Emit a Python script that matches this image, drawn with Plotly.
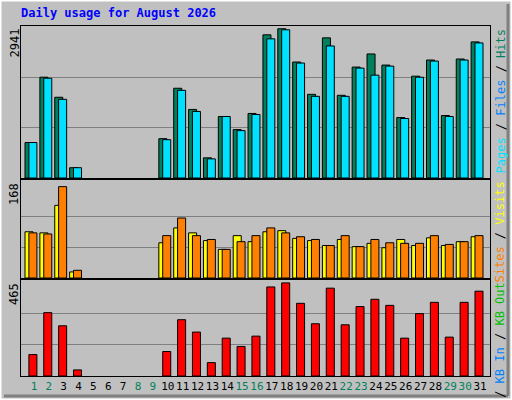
import plotly.graph_objects as go

days = list(range(1, 32))
weekend = [1, 2, 8, 9, 15, 16, 22, 23, 29, 30]

hits = [690, 1960, 1570, 200, None, None, None, None, None, 765, 1745, 1333, 392, 1196, 941, 1255,
        2784, 2902, 2255, 1627, 2725, 1608, 2157, 2412, 2196, 1176, 1980, 2294, 1215, 2314, 2647]
pages = [690, 1940, 1530, 200, None, None, None, None, None, 745, 1705, 1294, 372, 1196, 921, 1235,
         2706, 2882, 2235, 1588, 2568, 1588, 2137, 2000, 2176, 1157, 1960, 2274, 1196, 2294, 2627]
visits = [84, 82, 132, 11, None, None, None, None, None, 64, 91, 82, 68, 52, 77, 66,
          84, 86, 72, 68, 59, 70, 57, 63, 55, 70, 59, 73, 59, 66, 75]
sites = [82, 80, 166, 14, None, None, None, None, None, 77, 109, 77, 70, 52, 66, 77,
         91, 82, 75, 70, 59, 77, 57, 70, 64, 63, 63, 77, 61, 66, 77]
kbytes = [106, 313, 248, 30, None, None, None, None, None, 121, 278, 217, 66, 187, 146, 197,
          440, 460, 359, 258, 434, 253, 343, 379, 349, 187, 308, 364, 192, 364, 419]

max_hits = 2941
max_visits = 168
max_kb = 465

W = 0.54
mono = "DejaVu Sans Mono"
line = dict(color="black", width=1)

fig = go.Figure()
fig.add_trace(go.Bar(x=days, y=hits, offset=-0.6, width=W, marker=dict(color="#00805c", line=line),
                     xaxis="x", yaxis="y"))
fig.add_trace(go.Bar(x=days, y=pages, offset=-0.34, width=W, marker=dict(color="#00e0ff", line=line),
                     xaxis="x", yaxis="y"))
fig.add_trace(go.Bar(x=days, y=visits, offset=-0.6, width=W, marker=dict(color="#ffff00", line=line),
                     xaxis="x2", yaxis="y2"))
fig.add_trace(go.Bar(x=days, y=sites, offset=-0.34, width=W, marker=dict(color="#ff8000", line=line),
                     xaxis="x2", yaxis="y2"))
fig.add_trace(go.Bar(x=days, y=kbytes, offset=-0.34, width=W, marker=dict(color="#ff0000", line=line),
                     xaxis="x3", yaxis="y3"))

xdom = [21 / 512, 490 / 512]
xr = [0.13, 31.67]
ticktext = [f"<span style='color:#00805c'>{d}</span>" if d in weekend else str(d) for d in days]
axx = dict(domain=xdom, range=xr, showgrid=False, zeroline=False, showline=True, mirror=True,
           linecolor="black", linewidth=1, fixedrange=True, automargin=False)
axy = dict(showgrid=True, gridcolor="#808080", gridwidth=1, zeroline=False, showline=True,
           mirror=True, linecolor="black", linewidth=1, showticklabels=False, automargin=False)

fig.update_layout(
    width=512, height=400, margin=dict(l=0, r=0, t=0, b=0),
    paper_bgcolor="#c0c0c0", plot_bgcolor="#c0c0c0", showlegend=False, barmode="overlay",
    xaxis=dict(axx, anchor="y", showticklabels=False),
    xaxis2=dict(axx, anchor="y2", showticklabels=False),
    xaxis3=dict(axx, anchor="y3", tickmode="array", tickvals=days, ticktext=ticktext,
                ticks="", tickangle=0, tickfont=dict(family=mono, size=11, color="black")),
    yaxis=dict(axy, domain=[1 - 178 / 400, 1 - 26 / 400], range=[0, max_hits * 1.005],
               tickvals=[max_hits / 3, max_hits * 2 / 3]),
    yaxis2=dict(axy, domain=[1 - 278 / 400, 1 - 180 / 400], range=[0, max_visits * 1.06],
                tickvals=[max_visits / 3, max_visits * 2 / 3]),
    yaxis3=dict(axy, domain=[1 - 376 / 400, 1 - 280 / 400], range=[0, max_kb * 1.02],
                tickvals=[max_kb / 3, max_kb * 2 / 3]),
)

annots = [
    dict(x=19 / 512, y=1 - 13 / 400, xanchor="left", yanchor="middle", textangle=0,
         text="<b>Daily usage for August 2026</b>", font=dict(family=mono, size=12, color="#0000ff")),
    dict(x=14 / 512, y=1 - 27 / 400, xanchor="center", yanchor="top", textangle=-90,
         text=str(max_hits), font=dict(family=mono, size=12, color="black")),
    dict(x=14 / 512, y=1 - 181 / 400, xanchor="center", yanchor="top", textangle=-90,
         text=str(max_visits), font=dict(family=mono, size=12, color="black")),
    dict(x=14 / 512, y=1 - 281 / 400, xanchor="center", yanchor="top", textangle=-90,
         text=str(max_kb), font=dict(family=mono, size=12, color="black")),
    dict(x=500 / 512, y=1 - 27 / 400, xanchor="center", yanchor="top", textangle=-90,
         text="<span style='color:#00e0ff'>Pages</span> / <span style='color:#0080ff'>Files</span>"
              " / <span style='color:#00805c'>Hits</span>",
         font=dict(family=mono, size=12, color="black")),
    dict(x=500 / 512, y=1 - 180 / 400, xanchor="center", yanchor="top", textangle=-90,
         text="<span style='color:#ff8000'>Sites</span> / <span style='color:#ffff00'>Visits</span>",
         font=dict(family=mono, size=12, color="black")),
    dict(x=500 / 512, y=1 - 280 / 400, xanchor="center", yanchor="top", textangle=-90,
         text="<span style='color:#ff0000'>KB F</span> / <span style='color:#0080ff'>KB In</span>"
              " / <span style='color:#00c000'>KB Out</span>",
         font=dict(family=mono, size=12, color="black")),
]
for a in annots:
    a.update(xref="paper", yref="paper", showarrow=False)
fig.update_layout(annotations=annots)

# beveled frame like the original
fig.update_layout(shapes=[
    dict(type="rect", xref="paper", yref="paper", x0=0, y0=0, x1=1, y1=1,
         line=dict(color="white", width=3), fillcolor="rgba(0,0,0,0)"),
    dict(type="line", xref="paper", yref="paper", x0=4 / 512, y0=4 / 400, x1=508 / 512, y1=4 / 400,
         line=dict(color="#808080", width=3)),
    dict(type="line", xref="paper", yref="paper", x0=508 / 512, y0=4 / 400, x1=508 / 512, y1=396 / 400,
         line=dict(color="#808080", width=3)),
])

fig.write_html("out.html", config={"displayModeBar": False},
               post_script="document.body.style.margin='0';")
